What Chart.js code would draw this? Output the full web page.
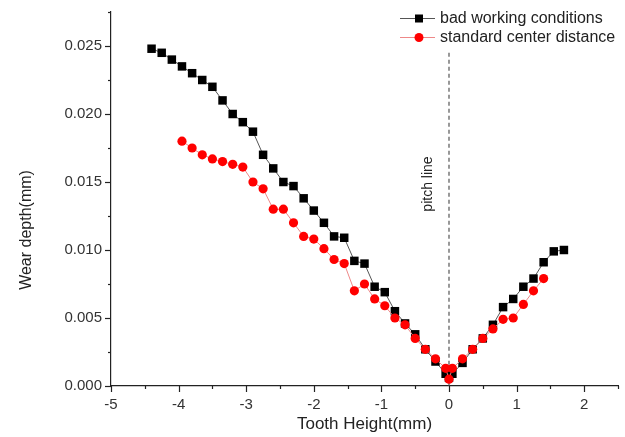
<!DOCTYPE html>
<html lang="en">
<head>
    <meta charset="UTF-8">
    <title>Wear depth vs tooth height</title>
    <style>
        html, body {
            margin: 0;
            padding: 0;
            background: #fff;
        }
        #wrap {
            width: 625px;
            height: 437px;
        }
    </style>
</head>
<body>
    <div id="wrap"><canvas id="wearChart" width="625" height="437"></canvas></div>
    <script src="https://cdn.jsdelivr.net/npm/chart.js"></script>
    <script>
        // values
        const badX = [-4.4, -4.25, -4.1, -3.95, -3.8, -3.65, -3.5, -3.35, -3.2, -3.05, -2.9, -2.75, -2.6, -2.45,
            -2.3, -2.15, -2.0, -1.85, -1.7, -1.55, -1.4, -1.25, -1.1, -0.95, -0.8, -0.65, -0.5, -0.35, -0.2,
            -0.05, 0, 0.05, 0.2, 0.35, 0.5, 0.65, 0.8, 0.95, 1.1, 1.25, 1.4, 1.55, 1.7];
        const badY = [0.0248, 0.0245, 0.0240, 0.0235, 0.0230, 0.0225, 0.0220, 0.0210, 0.0200, 0.0194, 0.0187,
            0.0170, 0.0160, 0.0150, 0.0147, 0.0138, 0.0129, 0.0120, 0.0110, 0.0109, 0.0092, 0.0090, 0.0073,
            0.0069, 0.0055, 0.0046, 0.0038, 0.0027, 0.0018, 0.0009, 0.0006, 0.0009, 0.0017, 0.0027, 0.0035,
            0.0045, 0.0058, 0.0064, 0.0073, 0.0079, 0.0091, 0.0099, 0.0100];

        const stdX = [-3.95, -3.8, -3.65, -3.5, -3.35, -3.2, -3.05, -2.9, -2.75, -2.6, -2.45, -2.3, -2.15, -2.0,
            -1.85, -1.7, -1.55, -1.4, -1.25, -1.1, -0.95, -0.8, -0.65, -0.5, -0.35, -0.2, -0.05, 0, 0.05, 0.2,
            0.35, 0.5, 0.65, 0.8, 0.95, 1.1, 1.25, 1.4];
        const stdY = [0.0180, 0.0175, 0.0170, 0.0167, 0.0165, 0.0163, 0.0161, 0.0150, 0.0145, 0.0130, 0.0130,
            0.0120, 0.0110, 0.0108, 0.0101, 0.0093, 0.0090, 0.0070, 0.0075, 0.0064, 0.0059, 0.0050, 0.0045,
            0.0035, 0.0027, 0.0020, 0.0013, 0.0005, 0.0013, 0.0020, 0.0027, 0.0035, 0.0042, 0.0049, 0.0050,
            0.0060, 0.0070, 0.0079];

        const pitchX = [0, 0];
        const pitchY = [0.0245, 0];

        const xMin = -5, xMax = 2.5, xStep = 0.5;
        const yMin = 0, yMax = 0.0275, yStep = 0.0025;

        const seriesNames = ['bad working conditions', 'standard center distance'];
        const FONT = '"Liberation Sans", Arial, sans-serif';

        const toPoints = (xs, ys) => xs.map((x, i) => ({ x: x, y: ys[i] }));

        function isMajorX(v) {
            return Math.abs(v - Math.round(v)) < 1e-6;
        }
        function isMajorY(v) {
            return Math.abs(v / 0.005 - Math.round(v / 0.005)) < 1e-6;
        }

        // tick marks (long major, short minor), y title, pitch label, legend
        const decorations = {
            id: 'decorations',
            afterDraw(chart) {
                const ctx = chart.ctx;
                const xs = chart.scales.x;
                const ys = chart.scales.y;
                ctx.save();
                ctx.strokeStyle = '#222';
                ctx.lineWidth = 1.2;
                xs.ticks.forEach(t => {
                    const px = Math.round(xs.getPixelForValue(t.value)) + 0.5;
                    const len = isMajorX(t.value) ? 6 : 3;
                    ctx.beginPath();
                    ctx.moveTo(px, ys.bottom);
                    ctx.lineTo(px, ys.bottom + len);
                    ctx.stroke();
                });
                ys.ticks.forEach(t => {
                    const py = Math.round(ys.getPixelForValue(t.value)) + 0.5;
                    const len = isMajorY(t.value) ? 6 : 3;
                    ctx.beginPath();
                    ctx.moveTo(xs.left, py);
                    ctx.lineTo(xs.left - len, py);
                    ctx.stroke();
                });

                // y axis title
                ctx.fillStyle = '#222';
                ctx.font = '16px ' + FONT;
                ctx.textAlign = 'center';
                ctx.textBaseline = 'middle';
                ctx.save();
                ctx.translate(27, 230);
                ctx.rotate(-Math.PI / 2);
                ctx.fillText('Wear depth(mm)', 0, 0);
                ctx.restore();

                // pitch line label
                ctx.font = '14px ' + FONT;
                ctx.save();
                ctx.translate(xs.getPixelForValue(0) - 21, 184);
                ctx.rotate(-Math.PI / 2);
                ctx.fillText('pitch line', 0, 0);
                ctx.restore();

                // legend
                const rows = [
                    { y: 18, line: '#555', fill: '#000', style: 'rect' },
                    { y: 37, line: '#ee8888', fill: '#ff0000', style: 'circle' }
                ];
                ctx.font = '16px ' + FONT;
                ctx.textAlign = 'left';
                rows.forEach((r, i) => {
                    ctx.strokeStyle = r.line;
                    ctx.lineWidth = 1;
                    ctx.beginPath();
                    ctx.moveTo(400, r.y + 0.5);
                    ctx.lineTo(435, r.y + 0.5);
                    ctx.stroke();
                    ctx.fillStyle = r.fill;
                    if (r.style === 'rect') {
                        ctx.fillRect(415, r.y - 3.5, 8, 8);
                    } else {
                        ctx.beginPath();
                        ctx.arc(419, r.y + 0.5, 4.5, 0, Math.PI * 2);
                        ctx.fill();
                    }
                    ctx.fillStyle = '#222';
                    ctx.fillText(seriesNames[i], 440, r.y + 1);
                });
                ctx.restore();
            }
        };

        const ctx = document.getElementById('wearChart').getContext('2d');
        const chart = new Chart(ctx, {
            type: 'line',
            data: {
                datasets: [{
                    label: seriesNames[0],
                    data: toPoints(badX, badY),
                    borderColor: '#555',
                    borderWidth: 1,
                    pointStyle: 'rect',
                    pointRadius: 6,
                    pointBackgroundColor: '#000',
                    pointBorderWidth: 0,
                    order: 2
                }, {
                    label: seriesNames[1],
                    data: toPoints(stdX, stdY),
                    borderColor: '#ee8888',
                    borderWidth: 1,
                    pointStyle: 'circle',
                    pointRadius: 4.6,
                    pointBackgroundColor: '#ff0000',
                    pointBorderWidth: 0,
                    order: 1
                }, {
                    label: 'pitch line',
                    data: toPoints(pitchX, pitchY),
                    borderColor: '#555',
                    borderWidth: 1.2,
                    borderDash: [4, 3],
                    pointRadius: 0,
                    order: 3
                }]
            },
            options: {
                responsive: false,
                animation: false,
                events: [],
                layout: {
                    padding: { top: 12, right: 7, left: 0, bottom: 0 }
                },
                plugins: {
                    legend: { display: false },
                    tooltip: { enabled: false }
                },
                scales: {
                    x: {
                        type: 'linear',
                        min: xMin,
                        max: xMax,
                        afterFit(scale) { scale.height = 51; },
                        border: { display: true, color: '#222', width: 1.2 },
                        grid: { display: true, drawOnChartArea: false, drawTicks: true, tickLength: 6, color: 'rgba(0,0,0,0)' },
                        ticks: {
                            stepSize: xStep,
                            autoSkip: false,
                            maxRotation: 0,
                            padding: 4,
                            color: '#333',
                            font: { family: FONT, size: 15 },
                            callback: v => isMajorX(v) ? String(Math.round(v)) : ''
                        },
                        title: {
                            display: true,
                            text: 'Tooth Height(mm)',
                            color: '#222',
                            font: { family: FONT, size: 17 },
                            padding: { top: 0, bottom: 2 }
                        }
                    },
                    y: {
                        type: 'linear',
                        min: yMin,
                        max: yMax,
                        afterFit(scale) { scale.width = 111; },
                        border: { display: true, color: '#222', width: 1.2 },
                        grid: { display: true, drawOnChartArea: false, drawTicks: true, tickLength: 6, color: 'rgba(0,0,0,0)' },
                        ticks: {
                            stepSize: yStep,
                            autoSkip: false,
                            padding: 3,
                            color: '#333',
                            font: { family: FONT, size: 15 },
                            callback: v => isMajorY(v) ? v.toFixed(3) : ''
                        }
                    }
                }
            },
            plugins: [decorations]
        });
    </script>
</body>
</html>
